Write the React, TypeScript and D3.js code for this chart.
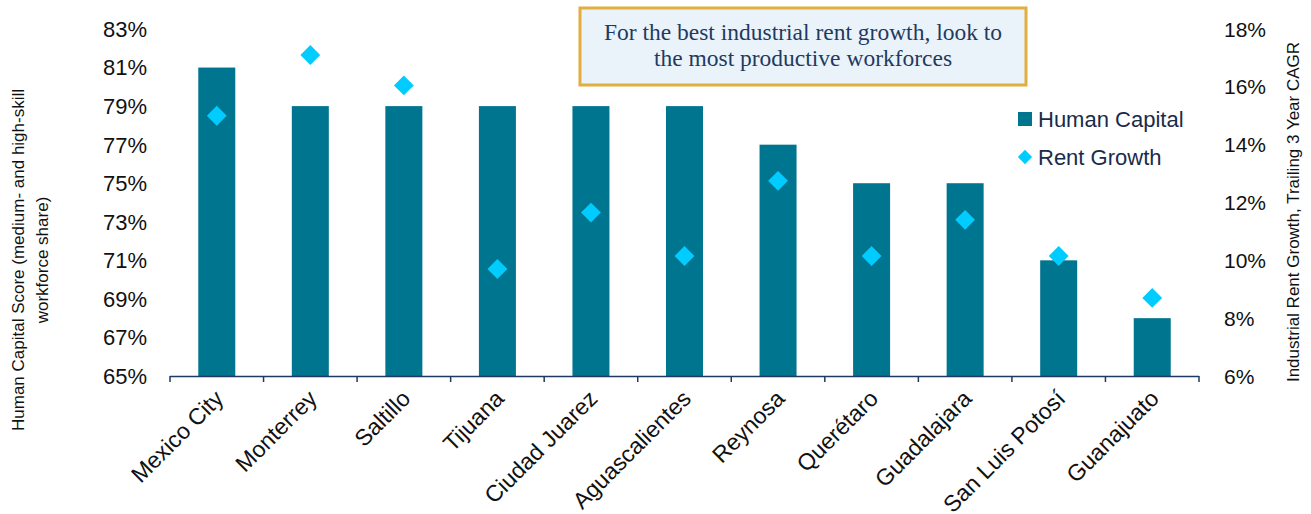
import React from "react";
import * as d3 from "d3";

const cities = ["Mexico City", "Monterrey", "Saltillo", "Tijuana", "Ciudad Juarez", "Aguascalientes", "Reynosa", "Querétaro", "Guadalajara", "San Luis Potosí", "Guanajuato"];
const humanCapital = [81, 79, 79, 79, 79, 79, 77, 75, 75, 71, 68];
const rentGrowth = [15.0, 17.1, 16.05, 9.7, 11.65, 10.15, 12.75, 10.15, 11.4, 10.15, 8.7];
const leftTicks = [65, 67, 69, 71, 73, 75, 77, 79, 81, 83];
const rightTicks = [6, 8, 10, 12, 14, 16, 18];
const titleLines = ["For the best industrial rent growth, look to", "the most productive workforces"];

const W = 1311, H = 514;
const BAR = "#00758F";
const DIAMOND = "#00CCFF";
const AXIS = "#1F3864";
const TEXT = "#111111";
const SANS = "'Liberation Sans', Arial, sans-serif";

export default function App() {
  const xc = d3.scaleBand<string>().domain(cities).range([170, 1199]);
  const yL = d3.scaleLinear().domain([65, 83]).range([376, 29]);
  const yR = d3.scaleLinear().domain([6, 18]).range([376, 29]);
  const diamond = d3.symbol().type(d3.symbolDiamond2).size(250)();
  const legendDiamond = d3.symbol().type(d3.symbolDiamond2).size(130)();
  const boundaries = d3.range(cities.length + 1).map(i => 170 + i * xc.step());
  const barW = 37;

  return (
    <svg width={W} height={H} style={{ position: "absolute", left: 0, top: 0, background: "#fff" }}>
      {cities.map((c, i) => (
        <rect key={c} x={xc(c)! + (xc.bandwidth() - barW) / 2} width={barW} y={yL(humanCapital[i])} height={yL(65) - yL(humanCapital[i])} fill={BAR} />
      ))}
      <line x1={170} x2={1199} y1={376.5} y2={376.5} stroke={AXIS} strokeWidth={1.5} />
      {boundaries.map((b, i) => (
        <line key={i} x1={b} x2={b} y1={376} y2={382} stroke={AXIS} strokeWidth={1.5} />
      ))}
      {cities.map((c, i) => (
        <path key={c} d={diamond!} transform={`translate(${xc(c)! + xc.bandwidth() / 2},${yR(rentGrowth[i])})`} fill={DIAMOND} />
      ))}
      {leftTicks.map(t => (
        <text key={t} x={147} y={yL(t)} dy="0.36em" textAnchor="end" fontFamily={SANS} fontSize={22} fill={TEXT}>{t}%</text>
      ))}
      {rightTicks.map(t => (
        <text key={t} x={1224} y={yR(t)} dy="0.36em" textAnchor="start" fontFamily={SANS} fontSize={21} fill={TEXT}>{t}%</text>
      ))}
      {cities.map(c => {
        const cx = xc(c)! + xc.bandwidth() / 2 + 8;
        const cy = 400;
        return (
          <text key={c} x={cx} y={cy} transform={`rotate(-45,${cx},${cy})`} textAnchor="end" fontFamily={SANS} fontSize={23} fill={TEXT}>{c}</text>
        );
      })}
      <g transform="translate(24,260) rotate(-90)" fontFamily={SANS} fontSize={17} fill={TEXT} textAnchor="middle">
        <text x={0} y={0}>Human Capital Score (medium- and high-skill</text>
        <text x={0} y={24}>workforce share)</text>
      </g>
      <text transform="translate(1299,212) rotate(-90)" textAnchor="middle" fontFamily={SANS} fontSize={17} fill={TEXT}>Industrial Rent Growth, Trailing 3 Year CAGR</text>
      <rect x={580} y={8} width={446} height={77} fill="#EAF3FA" stroke="#E2AE3E" strokeWidth={3} />
      {titleLines.map((l, i) => (
        <text key={i} x={803} y={40 + i * 26} textAnchor="middle" fontFamily="'Liberation Serif', 'DejaVu Serif', serif" fontSize={23.5} fill="#1F3A5F">{l}</text>
      ))}
      <rect x={1018} y={112} width={14} height={14} fill={BAR} />
      <text x={1038} y={119} dy="0.36em" fontFamily={SANS} fontSize={22} fill="#1A2B4A">Human Capital</text>
      <path d={legendDiamond!} transform="translate(1025,157)" fill={DIAMOND} />
      <text x={1038} y={157} dy="0.36em" fontFamily={SANS} fontSize={22} fill="#1A2B4A">Rent Growth</text>
    </svg>
  );
}
